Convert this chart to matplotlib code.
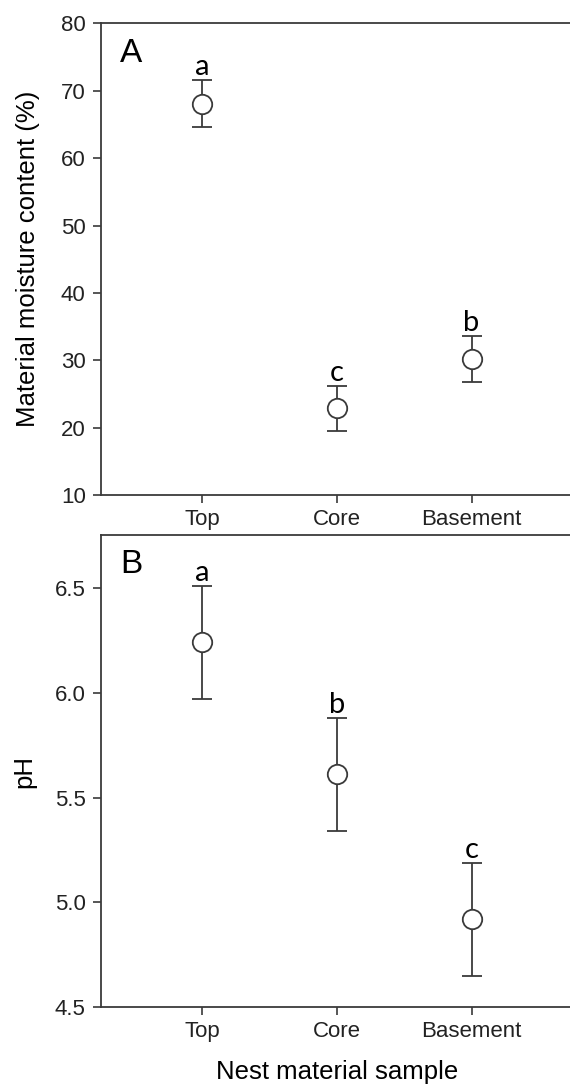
import matplotlib
matplotlib.use("Agg")
import matplotlib.pyplot as plt

categories = ["Top", "Core", "Basement"]

moisture_mean = [68.1, 22.9, 30.2]
moisture_err = [3.45, 3.35, 3.4]
moisture_letters = ["a", "c", "b"]

ph_mean = [6.24, 5.61, 4.92]
ph_err = [0.27, 0.27, 0.27]
ph_letters = ["a", "b", "c"]

plt.rcParams['font.family'] = ['Liberation Sans', 'DejaVu Sans']
INK = '#3a3a3a'

fig = plt.figure(figsize=(5.70, 10.85), dpi=100)
W, H = 570.0, 1085.0


def add_panel(top_px, bottom_px):
    left_px, right_px = 101.0, 572.6
    return fig.add_axes([left_px / W, 1 - bottom_px / H,
                         (right_px - left_px) / W, (bottom_px - top_px) / H])


def draw_panel(ax, means, errs, letters, ylim, yticks, fmt, tag, ylabel, label_x):
    x = list(range(1, len(categories) + 1))
    ax.errorbar(x, means, yerr=errs, fmt='o', color=INK, ecolor=INK,
                elinewidth=1.3, capsize=7, capthick=1.3,
                markersize=14, markerfacecolor='white', markeredgecolor=INK,
                markeredgewidth=1.3, zorder=3)
    for xi, m, e, lab in zip(x, means, errs, letters):
        ax.annotate(lab, (xi, m + e), xytext=(0, 3.5), textcoords='offset points',
                    ha='center', va='baseline', fontsize=21, family='Lato',
                    color='black')
    ax.set_xlim(0.25, 3.75)
    ax.set_ylim(*ylim)
    ax.set_yticks(yticks)
    ax.set_yticklabels([fmt.format(v) for v in yticks])
    ax.set_xticks(x)
    ax.set_xticklabels(categories)
    ax.tick_params(direction='out', length=6, width=1.2, color=INK,
                   labelsize=16, labelcolor='#222222')
    ax.tick_params(axis='y', pad=5)
    ax.tick_params(axis='x', pad=4)
    for s in ax.spines.values():
        s.set_color(INK)
        s.set_linewidth(1.3)
    ax.text(0.04, 0.97, tag, transform=ax.transAxes, ha='left', va='top',
            fontsize=24, color='black')
    ax.set_ylabel(ylabel, fontsize=18.5, color='black')
    ax.yaxis.set_label_coords(label_x, 0.5)


axA = add_panel(23.4, 495.0)
draw_panel(axA, moisture_mean, moisture_err, moisture_letters,
           (10, 80), [10, 20, 30, 40, 50, 60, 70, 80], "{:.0f}", "A",
           "Material moisture content (%)", -0.129)

axB = add_panel(535.3, 1007.3)
draw_panel(axB, ph_mean, ph_err, ph_letters,
           (4.5, 6.75), [4.5, 5.0, 5.5, 6.0, 6.5], "{:.1f}", "B",
           "pH", -0.138)

fig.text((101 + 572.6) / 2 / W, 1 - 1072 / H, "Nest material sample",
         ha='center', va='center', fontsize=18.5, color='black')

fig.savefig("out.png", dpi=100)
